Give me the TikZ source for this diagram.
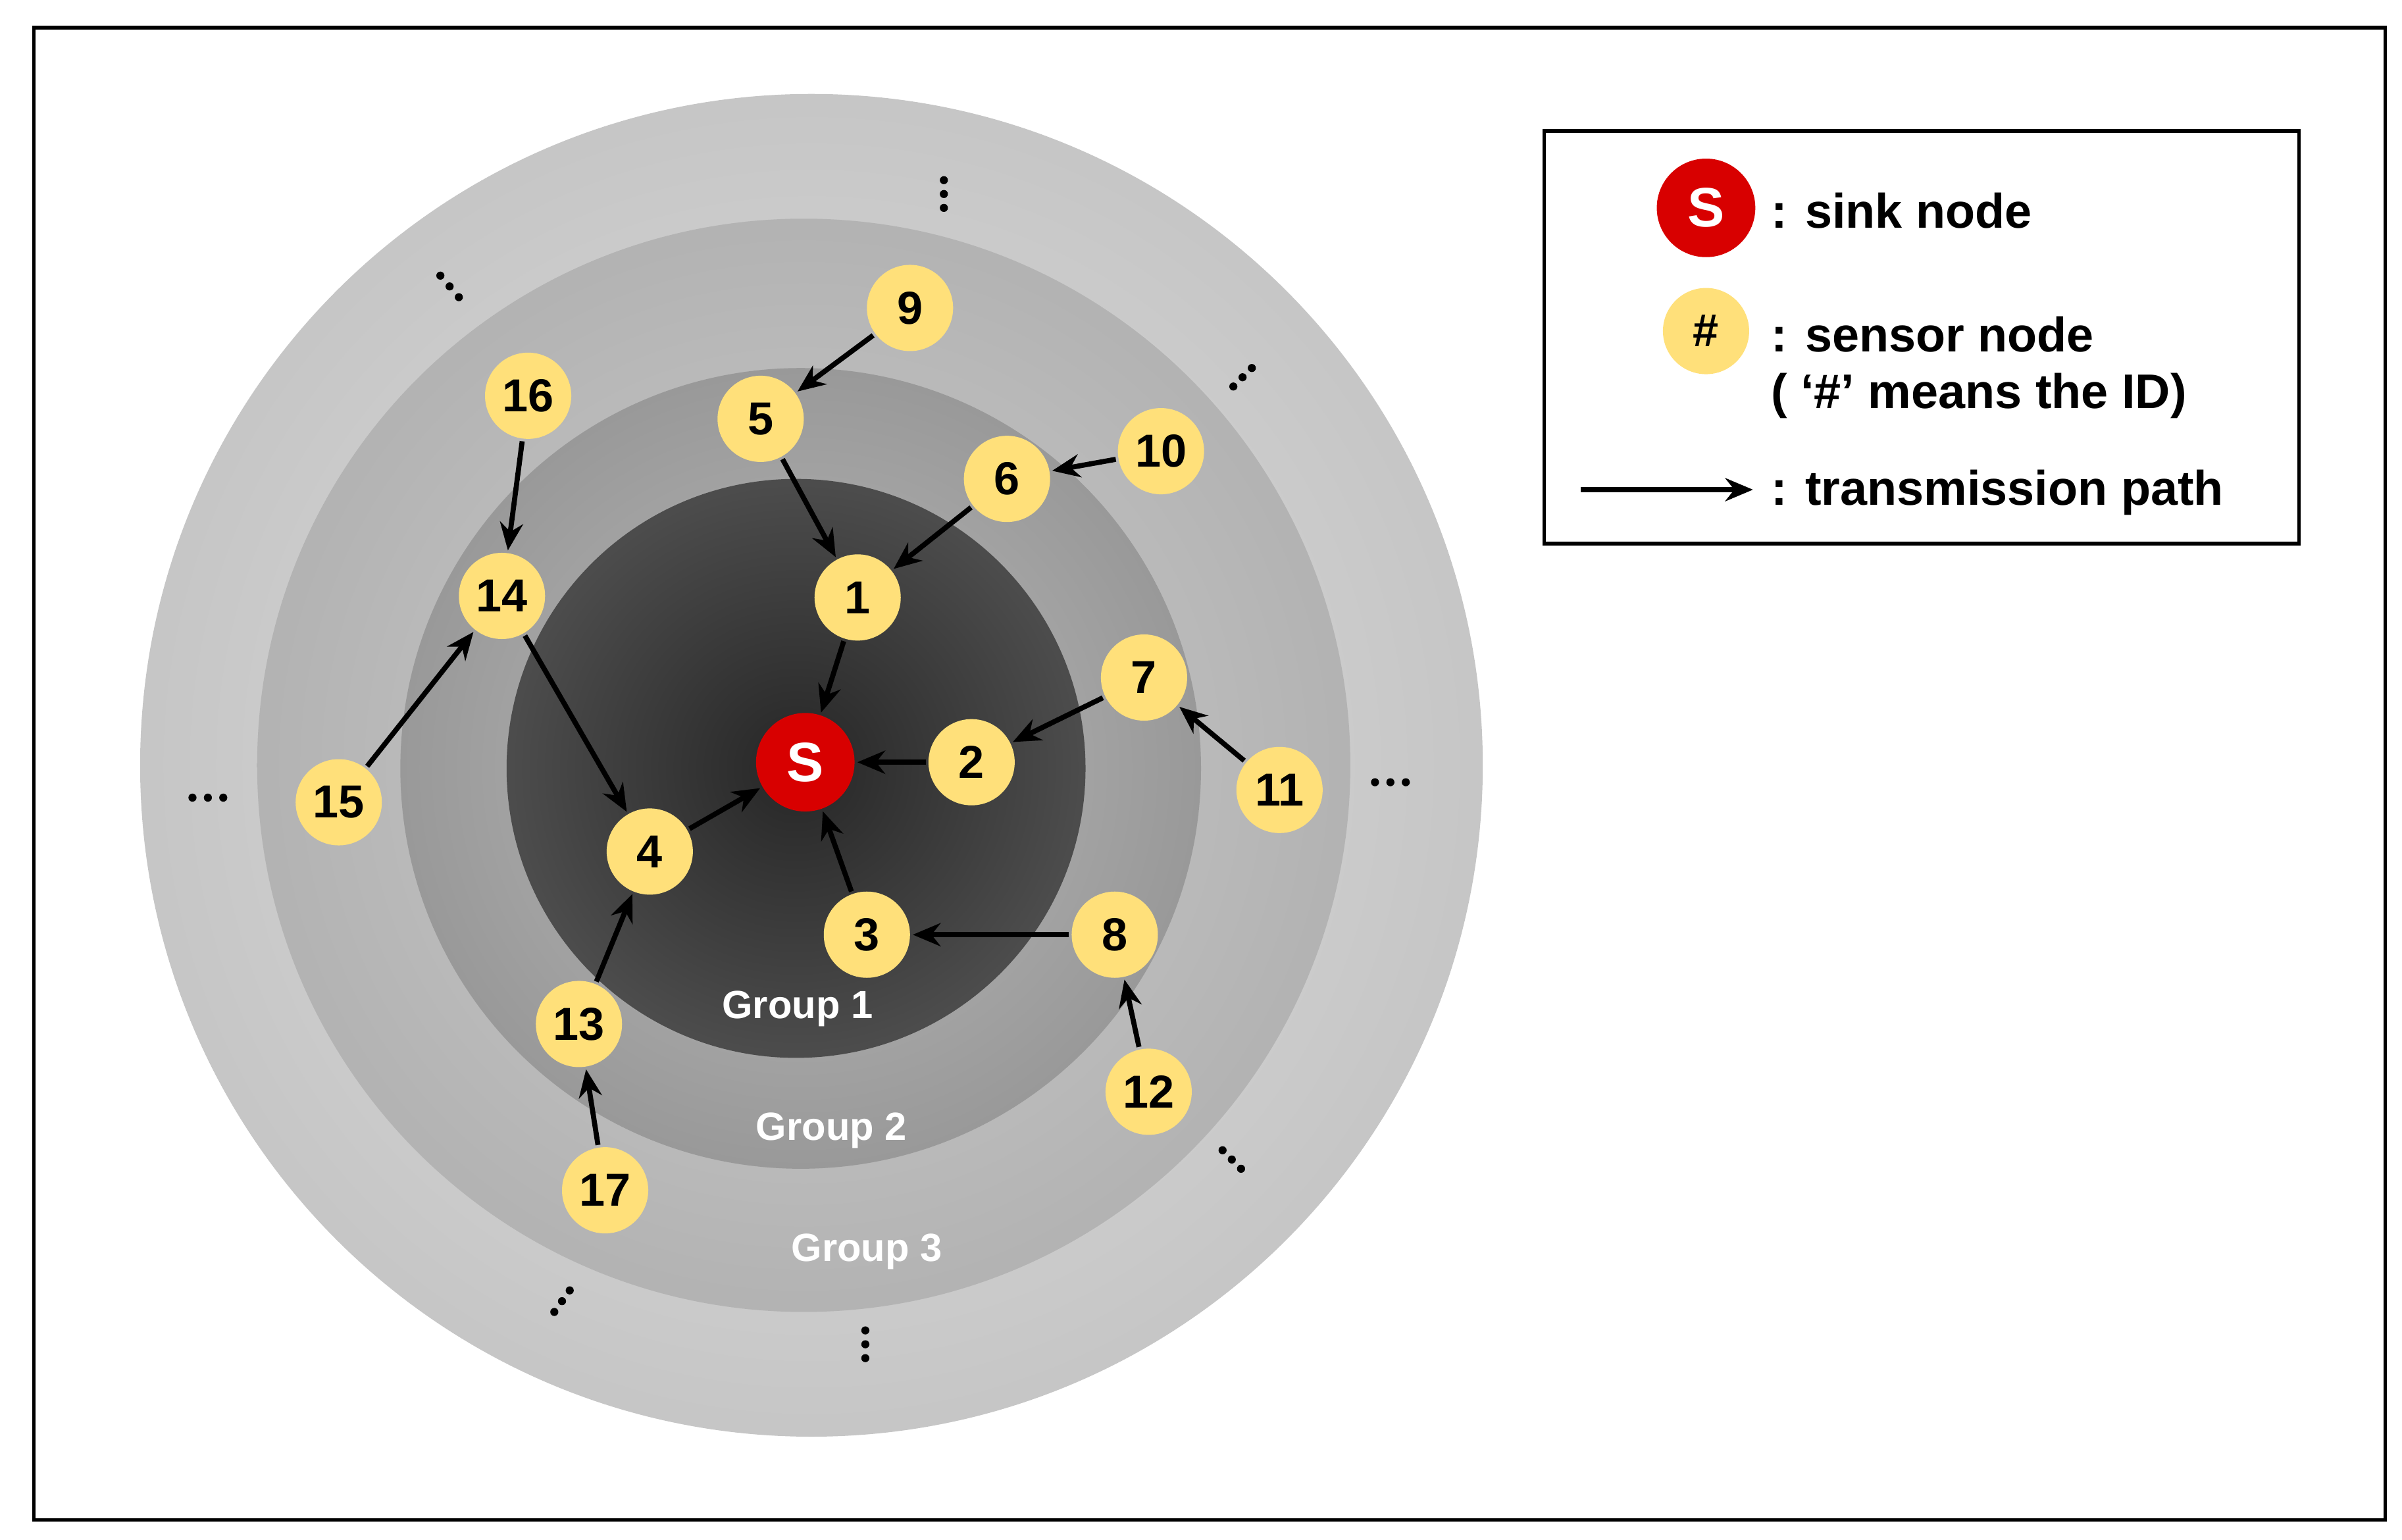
\documentclass[tikz,border=0pt]{standalone}
\usepackage{fontspec}
\setmainfont{Liberation Sans}
\usetikzlibrary{arrows.meta}
\definecolor{sens}{HTML}{FFE07A}
\definecolor{sinkc}{HTML}{D80000}
\begin{document}
\begin{tikzpicture}[x=0.0234cm,y=-0.0234cm,
  sensor/.style={circle,fill=sens,minimum size=56*0.0234cm,inner sep=0pt,font=\fontsize{20}{20}\selectfont\bfseries},
  sink/.style={circle,fill=sinkc,text=white,minimum size=64*0.0234cm,inner sep=0pt,font=\fontsize{24}{24}\selectfont\bfseries},
  tx/.style={-{Stealth[length=12pt,width=10pt]},line width=2.2pt,shorten >=1pt,shorten <=1pt},
  grp/.style={text=white,font=\fontsize{17}{17}\selectfont\bfseries},
  leg/.style={anchor=west,font=\fontsize{21}{21}\selectfont\bfseries},
  dot/.style={circle,fill=black,inner sep=0pt,minimum size=3.5pt}]
\useasboundingbox (0,0) rectangle (1560,1000);
\draw[line width=1.5pt] (22,18) rectangle (1549,987);
% rings
\shade[inner color=gray!25,outer color=gray!45] (527,497) circle (436);
\shade[inner color=gray!40,outer color=gray!60] (522,497) circle (355);
\shade[inner color=gray!55,outer color=gray!80] (520,499) circle (260);
\shade[inner color=black!85,outer color=black!70] (517,499) circle (188);
% dots
\foreach \p in {(613,117),(613,126),(613,135),(562,864),(562,873),(562,882),
  (286,179),(292,186),(298,193),(813,239),(807,245),(801,251),
  (794,747),(800,753),(806,759),(370,838),(365,845),(360,852),
  (125,518),(135,518),(145,518),(893,508),(903,508),(913,508)}
  \node[dot] at \p {};
\node[grp] (g1) at (518,655) {Group 1};
\node[grp] (g2) at (540,734) {Group 2};
\node[grp] (g3) at (563,813) {Group 3};
% nodes
\node[sink] (S) at (523,495) {S};
\node[sensor] (n1) at (557,388) {1};
\node[sensor] (n2) at (631,495) {2};
\node[sensor] (n3) at (563,607) {3};
\node[sensor] (n4) at (422,553) {4};
\node[sensor] (n5) at (494,272) {5};
\node[sensor] (n6) at (654,311) {6};
\node[sensor] (n7) at (743,440) {7};
\node[sensor] (n8) at (724,607) {8};
\node[sensor] (n9) at (591,200) {9};
\node[sensor] (n10) at (754,293) {10};
\node[sensor] (n11) at (831,513) {11};
\node[sensor] (n12) at (746,709) {12};
\node[sensor] (n13) at (376,665) {13};
\node[sensor] (n14) at (326,387) {14};
\node[sensor] (n15) at (220,521) {15};
\node[sensor] (n16) at (343,257) {16};
\node[sensor] (n17) at (393,773) {17};
\foreach \a/\b in {n9/n5,n5/n1,n10/n6,n6/n1,n1/S,n16/n14,n14/n4,n15/n14,n4/S,n13/n4,n17/n13,n3/S,n8/n3,n12/n8,n7/n2,n2/S,n11/n7}
  \draw[tx] (\a) -- (\b);
% legend
\draw[line width=1.5pt] (1003,85) rectangle (1493,353);
\node[sink] (ls) at (1108,135) {S};
\node[sensor] (lsn) at (1108,215) {\#};
\coordinate (la) at (1025,318);
\coordinate (lb) at (1140,318);
\draw[tx] (la) -- (lb);
\node[leg] (t1) at (1145,137) {: sink node};
\node[leg] (t2) at (1145,217) {: sensor node};
\node[leg] (t3) at (1145,257) {( ‘\#’ means the ID)};
\node[leg] (t4) at (1145,320) {: transmission path};
\end{tikzpicture}
\end{document}
